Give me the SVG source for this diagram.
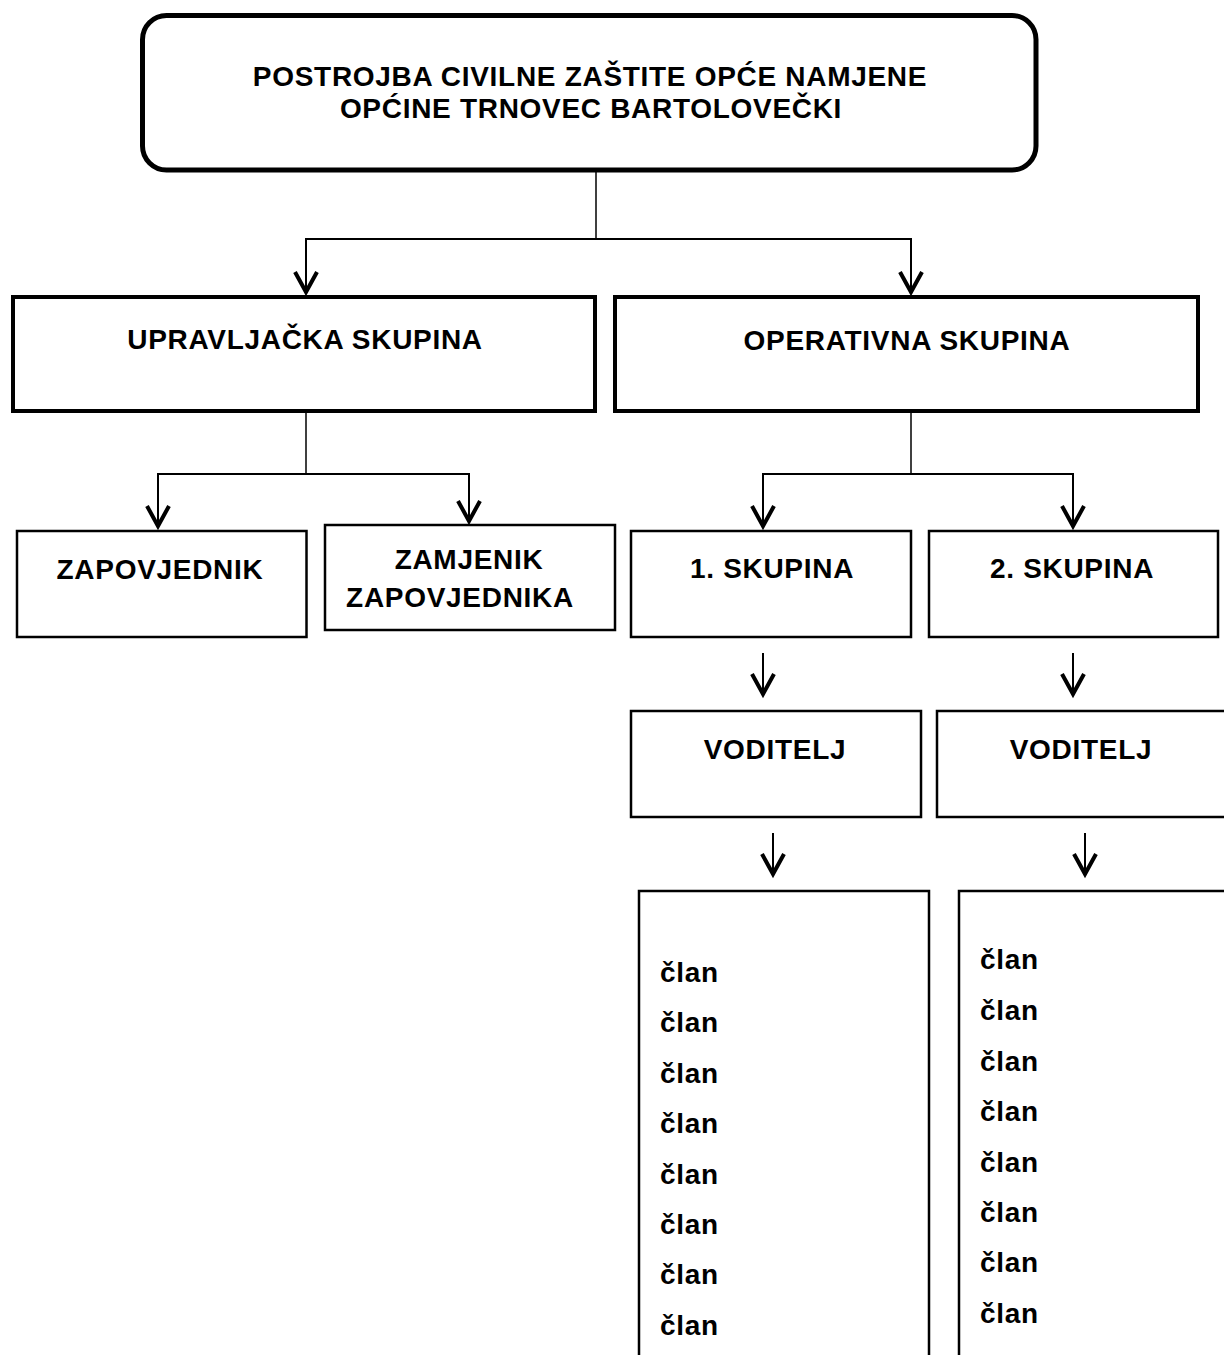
<svg xmlns="http://www.w3.org/2000/svg" width="1224" height="1355" viewBox="0 0 1224 1355">
<style>
.t{font-family:"Liberation Sans",Arial,sans-serif;font-weight:bold;font-size:28px;letter-spacing:0.7px;fill:#000}
.c{text-anchor:middle}
.b5{fill:#fff;stroke:#000;stroke-width:5}
.b4{fill:#fff;stroke:#000;stroke-width:4}
.b2{fill:#fff;stroke:#000;stroke-width:2.5}
.ln{fill:none;stroke:#000;stroke-width:1.5}
.ar{fill:none;stroke:#000;stroke-width:2}
</style>
<defs>
<marker id="ah" markerUnits="userSpaceOnUse" markerWidth="40" markerHeight="40" viewBox="-30 -20 40 40" refX="0" refY="0" orient="auto" overflow="visible">
<path d="M-21,-11 L-1,0 L-21,11" fill="none" stroke="#000" stroke-width="4" stroke-linejoin="miter"/>
</marker>
</defs>
<rect width="1224" height="1355" fill="#fff"/>
<g id="connectors">
<polyline class="ln" points="596,172 596,239"/>
<polyline class="ar" points="596,239 306,239 306,293" marker-end="url(#ah)"/>
<polyline class="ar" points="596,239 911,239 911,293" marker-end="url(#ah)"/>
<polyline class="ln" points="306,413 306,474"/>
<polyline class="ar" points="306,474 158,474 158,527" marker-end="url(#ah)"/>
<polyline class="ar" points="306,474 469,474 469,522" marker-end="url(#ah)"/>
<polyline class="ln" points="911,413 911,474"/>
<polyline class="ar" points="911,474 763,474 763,527" marker-end="url(#ah)"/>
<polyline class="ar" points="911,474 1073,474 1073,527" marker-end="url(#ah)"/>
<line class="ar" x1="763" y1="653" x2="763" y2="695" marker-end="url(#ah)"/>
<line class="ar" x1="1073" y1="653" x2="1073" y2="695" marker-end="url(#ah)"/>
<line class="ar" x1="773" y1="833" x2="773" y2="875" marker-end="url(#ah)"/>
<line class="ar" x1="1085" y1="833" x2="1085" y2="875" marker-end="url(#ah)"/>
</g>
<g id="root">
<rect class="b5" x="142.5" y="15.5" width="893.5" height="154.5" rx="24" ry="24"/>
<text class="t c" x="590" y="86">POSTROJBA CIVILNE ZAŠTITE OPĆE NAMJENE</text>
<text class="t c" x="591" y="118">OPĆINE TRNOVEC BARTOLOVEČKI</text>
</g>
<g id="upravljacka">
<rect class="b4" x="13" y="297" width="582" height="114"/>
<text class="t c" x="305" y="349">UPRAVLJAČKA SKUPINA</text>
</g>
<g id="operativna">
<rect class="b4" x="615" y="297" width="583" height="114"/>
<text class="t c" x="907" y="350">OPERATIVNA SKUPINA</text>
</g>
<g id="zapovjednik">
<rect class="b2" x="17" y="531" width="289.5" height="106"/>
<text class="t c" x="160" y="579">ZAPOVJEDNIK</text>
</g>
<g id="zamjenik">
<rect class="b2" x="325" y="525" width="290" height="105"/>
<text class="t c" x="469" y="569">ZAMJENIK</text>
<text class="t c" x="460" y="607">ZAPOVJEDNIKA</text>
</g>
<g id="skupina1">
<rect class="b2" x="631" y="531" width="280" height="106"/>
<text class="t c" x="772" y="578">1. SKUPINA</text>
</g>
<g id="skupina2">
<rect class="b2" x="929" y="531" width="289" height="106"/>
<text class="t c" x="1072" y="578">2. SKUPINA</text>
</g>
<g id="voditelj1">
<rect class="b2" x="631" y="711" width="290" height="106"/>
<text class="t c" x="775" y="759">VODITELJ</text>
</g>
<g id="voditelj2">
<rect class="b2" x="937" y="711" width="300" height="106"/>
<text class="t c" x="1081" y="759">VODITELJ</text>
</g>
<g id="clanovi1">
<path class="b2" d="M639,1360 V891 H929 V1360"/>
<text class="t" x="660" y="982">član</text>
<text class="t" x="660" y="1032">član</text>
<text class="t" x="660" y="1083">član</text>
<text class="t" x="660" y="1133">član</text>
<text class="t" x="660" y="1184">član</text>
<text class="t" x="660" y="1234">član</text>
<text class="t" x="660" y="1284">član</text>
<text class="t" x="660" y="1335">član</text>
</g>
<g id="clanovi2">
<path class="b2" d="M959,1360 V891 H1240"/>
<text class="t" x="980" y="969">član</text>
<text class="t" x="980" y="1020">član</text>
<text class="t" x="980" y="1071">član</text>
<text class="t" x="980" y="1121">član</text>
<text class="t" x="980" y="1172">član</text>
<text class="t" x="980" y="1222">član</text>
<text class="t" x="980" y="1272">član</text>
<text class="t" x="980" y="1323">član</text>
</g>
</svg>
